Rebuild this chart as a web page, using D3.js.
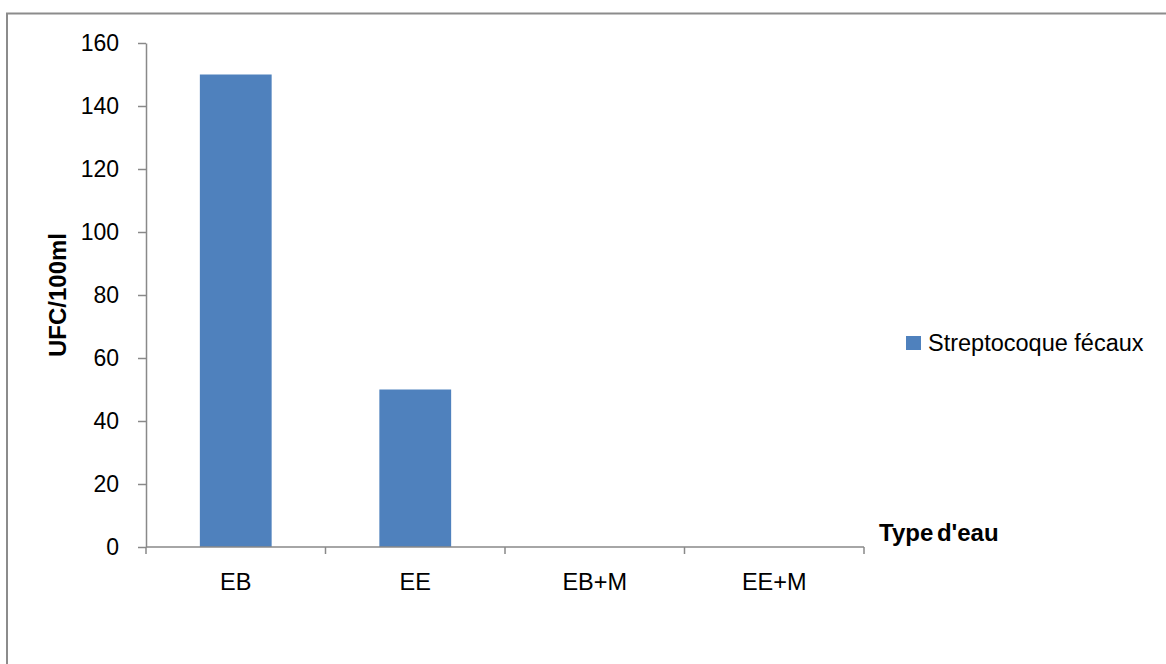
<!DOCTYPE html>
<html>
<head>
<meta charset="utf-8">
<script src="https://cdn.jsdelivr.net/npm/d3@7"></script>
<style>
  html, body { margin: 0; padding: 0; background: #fff; }
  svg { display: block; font-family: "Liberation Sans", Arial, sans-serif; }
</style>
</head>
<body>
<svg id="chart" width="1166" height="664"></svg>
<script>
// Faecal streptococci counts per water type
const categories = ["EB", "EE", "EB+M", "EE+M"];
const values = [150, 50, 0, 0];
const yTicks = [0, 20, 40, 60, 80, 100, 120, 140, 160];
const seriesName = "Streptocoque fécaux";
const xTitle = "Type d'eau";
const yTitle = "UFC/100ml";

const svg = d3.select("#chart");
const axisColor = "#898989";
const barColor = "#4F81BD";

// outer frame
svg.append("rect")
  .attr("x", 7).attr("y", 13.5)
  .attr("width", 1200).attr("height", 700)
  .attr("fill", "none").attr("stroke", "#8c8c8c").attr("stroke-width", 2);

const plot = { left: 146, right: 864, top: 43, bottom: 547 };

const x = d3.scaleBand()
  .domain(categories)
  .range([plot.left, plot.right])
  .paddingInner(0.6).paddingOuter(0.3);

const y = d3.scaleLinear()
  .domain([0, 160])
  .range([plot.bottom, plot.top]);

// bars
svg.append("g").selectAll("rect")
  .data(values.map((v, i) => ({ c: categories[i], v })))
  .join("rect")
  .attr("x", d => x(d.c))
  .attr("y", d => y(d.v))
  .attr("width", x.bandwidth())
  .attr("height", d => y(0) - y(d.v))
  .attr("fill", barColor);

// y axis
const yAxis = svg.append("g")
  .attr("transform", `translate(${plot.left},0)`)
  .call(d3.axisLeft(y).tickValues(yTicks).tickSize(8).tickPadding(19).tickSizeOuter(0));
yAxis.select(".domain").attr("stroke", axisColor).attr("stroke-width", 1.5);
yAxis.selectAll(".tick line").attr("stroke", axisColor).attr("stroke-width", 1.5);
yAxis.selectAll(".tick text")
  .attr("font-size", 23).attr("fill", "#000")
  .attr("font-family", "'Liberation Sans', Arial, sans-serif");

// x axis with boundary ticks between categories
const step = (plot.right - plot.left) / categories.length;
const xLine = svg.append("g");
xLine.append("line")
  .attr("x1", plot.left).attr("x2", plot.right)
  .attr("y1", plot.bottom).attr("y2", plot.bottom)
  .attr("stroke", axisColor).attr("stroke-width", 1.5);
xLine.selectAll("line.tk")
  .data(d3.range(categories.length + 1))
  .join("line").attr("class", "tk")
  .attr("x1", i => plot.left + i * step).attr("x2", i => plot.left + i * step)
  .attr("y1", plot.bottom).attr("y2", plot.bottom + 7)
  .attr("stroke", axisColor).attr("stroke-width", 1.5);

svg.append("g").selectAll("text")
  .data(categories)
  .join("text")
  .attr("x", d => x(d) + x.bandwidth() / 2)
  .attr("y", 590)
  .attr("text-anchor", "middle")
  .attr("font-size", 23.5)
  .text(d => d);

// axis titles
svg.append("text")
  .attr("x", 879).attr("y", 541)
  .attr("font-size", 24).attr("font-weight", "bold")
  .attr("word-spacing", -3)
  .text(xTitle);

svg.append("text")
  .attr("transform", "translate(66,295) rotate(-90)")
  .attr("text-anchor", "middle")
  .attr("font-size", 24).attr("font-weight", "bold")
  .text(yTitle);

// legend
const legend = svg.append("g");
legend.append("rect")
  .attr("x", 906).attr("y", 336)
  .attr("width", 15).attr("height", 14)
  .attr("fill", barColor);
legend.append("text")
  .attr("x", 928).attr("y", 351)
  .attr("font-size", 23.5)
  .text(seriesName);
</script>
</body>
</html>
